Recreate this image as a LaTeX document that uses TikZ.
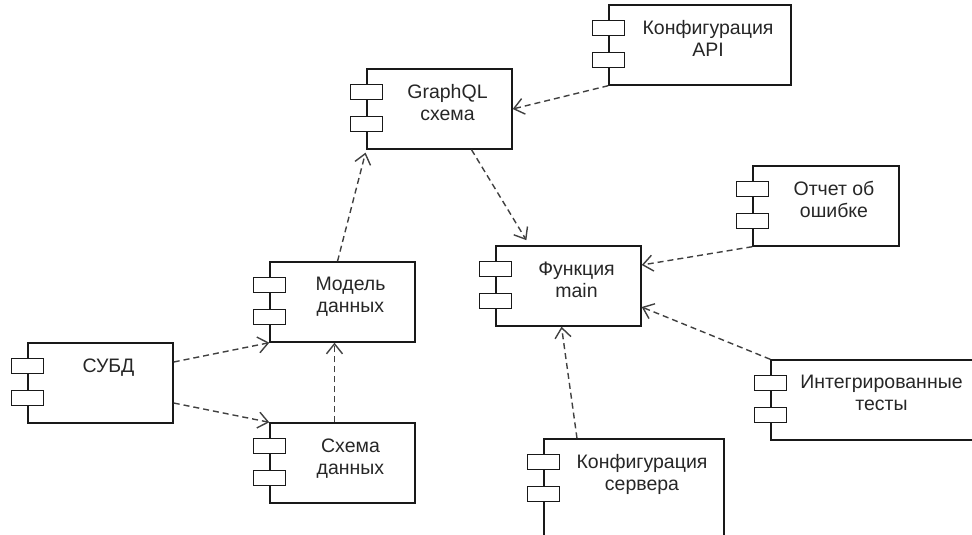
\documentclass[tikz,border=0pt]{standalone}
\usepackage{fontspec}
\setmainfont{Liberation Sans}
\usetikzlibrary{arrows.meta}

\begin{document}
\begin{tikzpicture}[x=1pt,y=-1pt,
		comp/.style={draw=black!90, line width=1.4pt, minimum height=80pt, inner sep=0pt},
		icon/.style={draw=black!90, fill=white, line width=1.4pt},
		lbl/.style={anchor=north, align=center, inner sep=0pt, text=black!85, font=\fontsize{19.5}{22}\selectfont},
		dep/.style={draw=black!75, line width=1.4pt, dash pattern=on 6pt off 4pt, -{Straight Barb[length=10pt,width=16pt]}}]
		\useasboundingbox (0,0) rectangle (972,535);
		\clip (0,0) rectangle (972,535);

		\node[comp, minimum width=182pt] (api) at (700,45) {};
		\node[comp, minimum width=145pt] (gql) at (439.5,109) {};
		\node[comp, minimum width=145pt] (main) at (568.5,286) {};
		\node[comp, minimum width=146pt] (report) at (826,206) {};
		\node[comp, minimum width=145pt] (model) at (342.5,302) {};
		\node[comp, minimum width=145pt] (schema) at (342.5,463) {};
		\node[comp, minimum width=145pt] (subd) at (100.5,383) {};
		\node[comp, minimum width=205pt] (tests) at (873.5,400) {};
		\node[comp, minimum width=180pt, minimum height=110pt] (server) at (634,494) {};

		\foreach \c in {api,gql,main,report,model,schema,subd,tests,server} {
			\draw[icon] ([xshift=-16pt,yshift=-16pt]\c.north west) rectangle ++(32pt,-15pt);
			\draw[icon] ([xshift=-16pt,yshift=-48pt]\c.north west) rectangle ++(32pt,-15pt);
		}

		\node[lbl] (apitxt) at ([xshift=8pt,yshift=-16pt]api.north) {Конфигурация\\API};
		\node[lbl] (gqltxt) at ([xshift=8pt,yshift=-16pt]gql.north) {GraphQL\\схема};
		\node[lbl] (maintxt) at ([xshift=8pt,yshift=-16pt]main.north) {Функция\\main};
		\node[lbl] (reporttxt) at ([xshift=8pt,yshift=-16pt]report.north) {Отчет об\\ошибке};
		\node[lbl] (modeltxt) at ([xshift=8pt,yshift=-16pt]model.north) {Модель\\данных};
		\node[lbl] (schematxt) at ([xshift=8pt,yshift=-16pt]schema.north) {Схема\\данных};
		\node[lbl] (subdtxt) at ([xshift=8pt,yshift=-16pt]subd.north) {СУБД};
		\node[lbl] (teststxt) at ([xshift=8pt,yshift=-16pt]tests.north) {Интегрированные\\тесты};
		\node[lbl] (servertxt) at ([xshift=8pt,yshift=-16pt]server.north) {Конфигурация\\сервера};

		% dependencies
		\draw[dep] (api.south west) -- (gql.east);
		\draw[dep, shorten >=6pt] ([xshift=32pt]gql.south) -- ([xshift=-39pt]main.north);
		\draw[dep, shorten >=3pt] ([xshift=-5pt]model.north) -- (gql.south west);
		\draw[dep] ([yshift=21pt]subd.east) -- (model.south west);
		\draw[dep] ([yshift=-20pt]subd.east) -- (schema.north west);
		\draw[dep] ([xshift=-8pt]schema.north) -- ([xshift=-8pt]model.south);
		\draw[dep] (report.south west) -- ([yshift=21pt]main.east);
		\draw[dep] (tests.north west) -- ([yshift=-21pt]main.east);
		\draw[dep] ([xshift=-57pt]server.north) -- ([xshift=-7pt]main.south);
	\end{tikzpicture}
\end{document}
